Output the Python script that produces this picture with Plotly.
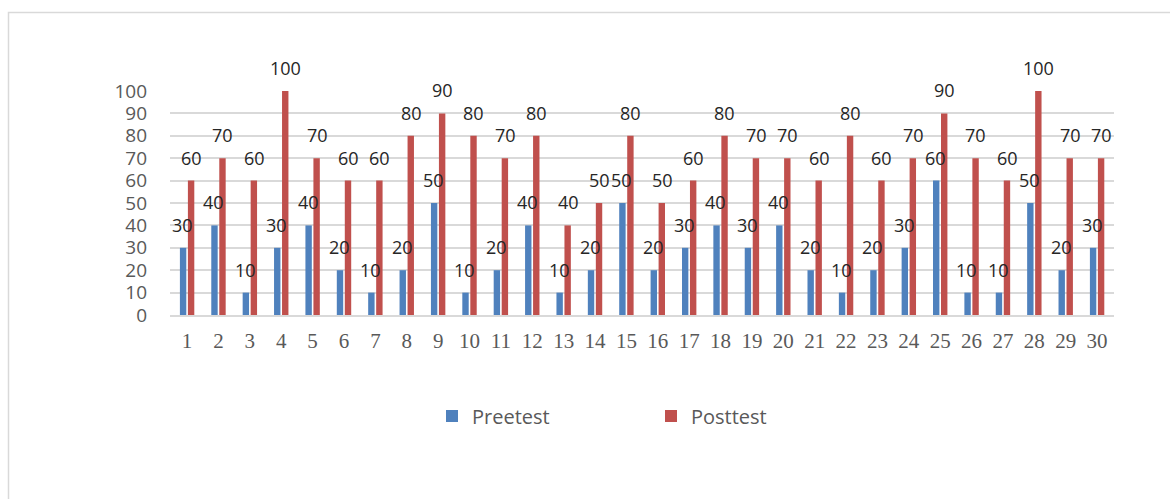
import plotly.graph_objects as go

# Student scores, before and after
students = [str(i) for i in range(1, 31)]
preetest = [30, 40, 10, 30, 40, 20, 10, 20, 50, 10,
            20, 40, 10, 20, 50, 20, 30, 40, 30, 40,
            20, 10, 20, 30, 60, 10, 10, 50, 20, 30]
posttest = [60, 70, 60, 100, 70, 60, 60, 80, 90, 80,
            70, 80, 40, 50, 80, 50, 60, 80, 70, 70,
            60, 80, 60, 70, 90, 70, 60, 100, 70, 70]
y_ticks = list(range(0, 101, 10))

BLUE = "#4F81BD"
RED = "#C0504D"
GRID = "#D9D9D9"
GREY_TEXT = "#595959"
LABEL_FONT = dict(family="Open Sans", size=18, color="#262626")

W, H = 1170, 499
L, R, T, B = 170, 56, 91, 184
PW, PH = W - L - R, H - T - B

fig = go.Figure()
fig.add_trace(go.Bar(name="Preetest", x=students, y=preetest,
                     marker=dict(color=BLUE, line=dict(width=0))))
fig.add_trace(go.Bar(name="Posttest", x=students, y=posttest,
                     marker=dict(color=RED, line=dict(width=0))))

# value labels above each bar (category positions given by index)
annotations = []
for series, xshift in ((preetest, -4.6), (posttest, 4.4)):
    for idx, val in enumerate(series):
        annotations.append(dict(
            x=idx, y=val, xref="x", yref="y", text=str(val),
            showarrow=False, xanchor="center", yanchor="middle",
            xshift=xshift, yshift=23, font=LABEL_FONT))

# outer chart frame
frame = dict(type="rect", xref="paper", yref="paper",
             x0=(8.5 - L) / PW, x1=(W + 20 - L) / PW,
             y0=(T + PH - (H + 20)) / PH, y1=(T + PH - 12.5) / PH,
             line=dict(color=GRID, width=1.5), fillcolor="rgba(0,0,0,0)",
             layer="below")

fig.update_layout(
    width=W, height=H,
    margin=dict(l=L, r=R, t=T, b=B, pad=0),
    paper_bgcolor="white", plot_bgcolor="white",
    barmode="group", bargap=0.49, bargroupgap=0.2,
    showlegend=True,
    legend=dict(orientation="h", x=(446 - 14 - L) / PW, xanchor="left",
                y=(T + PH - 416) / PH, yanchor="middle",
                font=dict(family="Open Sans", size=20, color=GREY_TEXT),
                itemwidth=30,
                entrywidth=174, entrywidthmode="pixels",
                itemclick=False, traceorder="normal"),
    xaxis=dict(type="category", showgrid=False, showline=True,
               linecolor=GRID, linewidth=2, ticks="", ticklen=0,
               ticklabelstandoff=6,
               tickfont=dict(family="Liberation Serif", size=21,
                             color=GREY_TEXT)),
    yaxis=dict(range=[0, 100], tickvals=y_ticks, showgrid=True,
               gridcolor=GRID, gridwidth=1.5, zeroline=False,
               showline=False, ticks="", ticklabelstandoff=22,
               tickfont=dict(family="Open Sans", size=19, color=GREY_TEXT)),
    annotations=annotations,
    shapes=[frame],
)

fig.write_html("out.html")
